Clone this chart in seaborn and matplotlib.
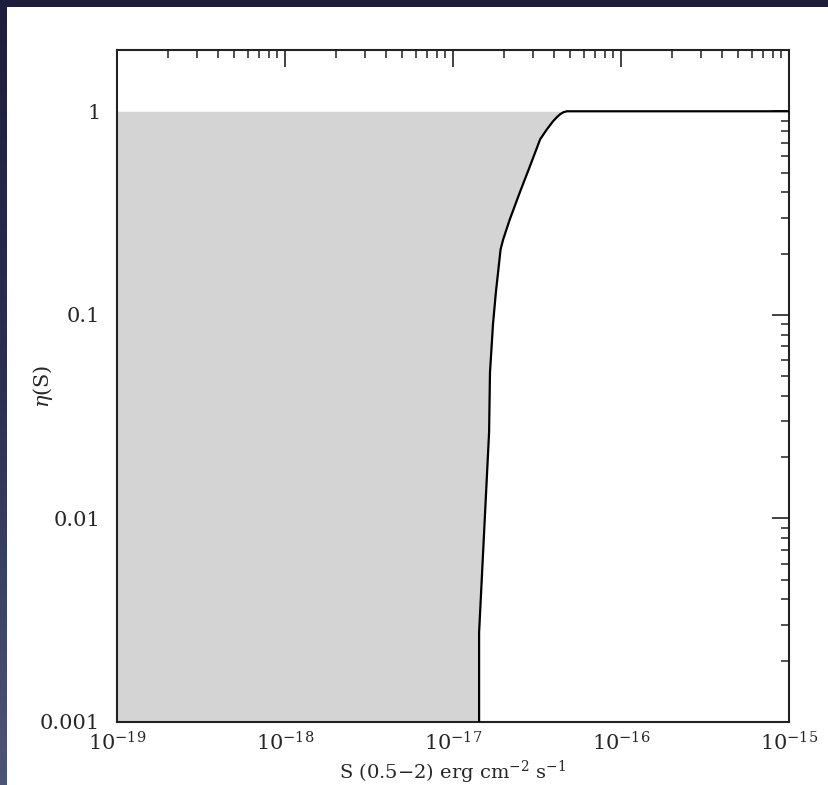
import numpy as np
import pandas as pd
import matplotlib
matplotlib.use("Agg")
import matplotlib.pyplot as plt
import matplotlib.ticker as mticker
from matplotlib.colors import LinearSegmentedColormap
import seaborn as sns

# ---- data ----
S_vals = [1.43e-17, 1.43e-17, 1.64e-17, 1.66e-17, 1.73e-17, 1.80e-17, 1.92e-17,
          1.99e-17, 2.18e-17, 2.50e-17, 2.87e-17, 3.10e-17, 3.30e-17, 3.62e-17,
          3.94e-17, 4.15e-17, 4.34e-17, 4.55e-17, 4.77e-17, 1e-15]
eta_vals = [0.001, 0.00275, 0.0265, 0.052, 0.09, 0.129, 0.21,
            0.235, 0.295, 0.40, 0.537, 0.635, 0.728, 0.815,
            0.893, 0.935, 0.967, 0.99, 1.0, 1.0]
x_ticks = [1e-19, 1e-18, 1e-17, 1e-16, 1e-15]
x_tick_labels = [r"$10^{-19}$", r"$10^{-18}$", r"$10^{-17}$", r"$10^{-16}$", r"$10^{-15}$"]
y_ticks = [0.001, 0.01, 0.1, 1]
y_tick_labels = ["0.001", "0.01", "0.1", "1"]
x_label = r"S (0.5$-$2) erg cm$^{-2}$ s$^{-1}$"
y_label = r"$\eta$(S)"

df = pd.DataFrame({"S": S_vals, "eta": eta_vals})

sns.set_style("white")
plt.rcParams["font.family"] = ["DejaVu Serif"]
plt.rcParams["mathtext.fontset"] = "dejavuserif"

W, H = 829, 785
fig = plt.figure(figsize=(W / 100, H / 100), dpi=100, facecolor="white")

# dark slide borders (left and top)
grad_ax = fig.add_axes([0, 0, 7 / W, 1])
grad = np.linspace(0, 1, 256).reshape(-1, 1)
cmap = LinearSegmentedColormap.from_list("slide", ["#1d1e3b", "#2b2f52", "#4d5574"])
grad_ax.imshow(grad, aspect="auto", cmap=cmap, origin="upper")
grad_ax.set_axis_off()
top_ax = fig.add_axes([0, 1 - 7 / H, 1, 7 / H])
top_ax.set_facecolor("#1d1e3b")
top_ax.set_xticks([]); top_ax.set_yticks([])
for s in top_ax.spines.values():
    s.set_visible(False)

ax = fig.add_axes([117 / W, 1 - 722 / H, (789 - 117) / W, (722 - 50) / H])
ax.set_xscale("log")
ax.set_yscale("log")
ax.set_xlim(1e-19, 1e-15)
ax.set_ylim(0.001, 2.0)

# shaded region left of the curve
fill = df[df["S"] < 1e-15]
ax.fill_betweenx(fill["eta"], 1e-19, fill["S"], color="#d4d4d4", lw=0, zorder=1)

sns.lineplot(data=df, x="S", y="eta", sort=False, estimator=None,
             color="black", lw=1.6, ax=ax, zorder=3)

ax.set_xticks(x_ticks)
ax.set_xticklabels(x_tick_labels)
ax.set_yticks(y_ticks)
ax.set_yticklabels(y_tick_labels)
ax.xaxis.set_minor_locator(mticker.LogLocator(base=10, subs=np.arange(2, 10), numticks=100))
ax.yaxis.set_minor_locator(mticker.LogLocator(base=10, subs=np.arange(2, 10), numticks=100))
ax.xaxis.set_minor_formatter(mticker.NullFormatter())
ax.yaxis.set_minor_formatter(mticker.NullFormatter())

ax.tick_params(which="both", direction="in", top=True, right=True, color="#222222")
ax.tick_params(which="major", length=12, width=1.2)
ax.tick_params(which="minor", length=6, width=1.1)
ax.tick_params(axis="x", which="major", pad=7, labelsize=15)
ax.tick_params(axis="y", which="major", pad=12, labelsize=15)

for s in ax.spines.values():
    s.set_visible(True)
    s.set_linewidth(1.5)
    s.set_color("#222222")

ax.set_xlabel(x_label, fontsize=14, labelpad=3)
ax.set_ylabel(y_label, fontsize=15)
ax.yaxis.set_label_coords(-0.092, 0.5)

fig.savefig("out.png", dpi=100, facecolor="white")
